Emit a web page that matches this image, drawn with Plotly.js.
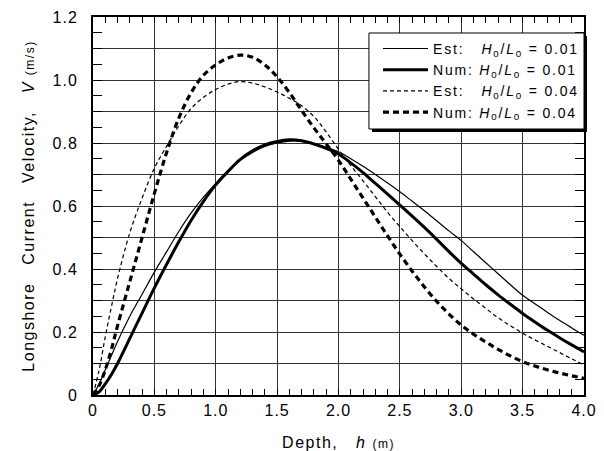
<!DOCTYPE html>
<html>
<head>
<meta charset="utf-8">
<script src="https://cdn.plot.ly/plotly-3.0.1.min.js"></script>
<style>
  html, body { margin: 0; padding: 0; background: #fff; }
  #chart { width: 604px; height: 451px; }
  /* slightly tracked lettering for labels */
  .legendtext { letter-spacing: 1.8px; }
  .xtitle, .ytitle { letter-spacing: 1.5px; }
  .xtick text, .ytick text { letter-spacing: 1px; }
</style>
</head>
<body>
<div id="chart"></div>
<script>
// Water depth h (m)
const depth = [0, 0.05, 0.1, 0.15, 0.2, 0.3, 0.4, 0.5, 0.6, 0.7, 0.8, 0.9, 1.0,
  1.1, 1.2, 1.3, 1.4, 1.5, 1.6, 1.7, 1.8, 1.9, 2.0, 2.1, 2.2, 2.3, 2.4, 2.5,
  2.6, 2.7, 2.8, 2.9, 3.0, 3.1, 3.2, 3.3, 3.4, 3.5, 3.6, 3.7, 3.8, 3.9, 4.0];

// Longshore current velocity V (m/s)
const estSteep001 = [0, 0.035, 0.08, 0.125, 0.17, 0.25, 0.32, 0.39, 0.455, 0.52, 0.578, 0.628, 0.672,
  0.712, 0.745, 0.77, 0.789, 0.80, 0.806, 0.805, 0.797, 0.786, 0.772, 0.75, 0.726, 0.70, 0.673, 0.645,
  0.615, 0.585, 0.553, 0.521, 0.49, 0.455, 0.42, 0.385, 0.35, 0.317, 0.29, 0.263, 0.237, 0.213, 0.19];

const numSteep001 = [0, 0.01, 0.035, 0.065, 0.1, 0.18, 0.26, 0.34, 0.415, 0.487, 0.555, 0.615, 0.667,
  0.71, 0.748, 0.775, 0.794, 0.805, 0.81, 0.807, 0.797, 0.783, 0.765, 0.737, 0.706, 0.672, 0.638, 0.603,
  0.568, 0.532, 0.494, 0.455, 0.418, 0.384, 0.35, 0.318, 0.288, 0.259, 0.232, 0.206, 0.182, 0.159, 0.137];

const estSteep004 = [0, 0.08, 0.185, 0.28, 0.37, 0.515, 0.625, 0.72, 0.79, 0.855, 0.91, 0.945, 0.97,
  0.987, 0.995, 0.99, 0.978, 0.962, 0.942, 0.918, 0.884, 0.835, 0.78, 0.728, 0.68, 0.63, 0.58, 0.534,
  0.49, 0.448, 0.408, 0.37, 0.337, 0.305, 0.275, 0.245, 0.22, 0.196, 0.175, 0.155, 0.135, 0.115, 0.095];

const numSteep004 = [0, 0.03, 0.08, 0.145, 0.22, 0.36, 0.5, 0.64, 0.77, 0.88, 0.96, 1.015, 1.048,
  1.07, 1.079, 1.072, 1.048, 1.01, 0.96, 0.903, 0.848, 0.797, 0.745, 0.685, 0.625, 0.565, 0.505, 0.447,
  0.393, 0.343, 0.297, 0.257, 0.222, 0.193, 0.168, 0.145, 0.124, 0.106, 0.092, 0.08, 0.07, 0.061, 0.053];

// Axis ticks
const xTickVals = [0, 0.5, 1.0, 1.5, 2.0, 2.5, 3.0, 3.5, 4.0];
const xTickText = ['0', '0.5', '1.0', '1.5', '2.0', '2.5', '3.0', '3.5', '4.0'];
const yTickVals = [0, 0.2, 0.4, 0.6, 0.8, 1.0, 1.2];
const yTickText = ['0', '0.2', '0.4', '0.6', '0.8', '1.0', '1.2'];

// Legend labels
const ratio = '<i>H</i><sub>0</sub>/<i>L</i><sub>0</sub>';
const seriesNames = [
  'Est:\u00A0\u00A0\u00A0' + ratio + ' = 0.01',
  'Num:\u00A0' + ratio + ' = 0.01',
  'Est:\u00A0\u00A0\u00A0' + ratio + ' = 0.04',
  'Num:\u00A0' + ratio + ' = 0.04'
];

const FONT = '"Liberation Sans", Arial, sans-serif';
const GRID = '#333';

const traces = [
  { x: depth, y: estSteep001, name: seriesNames[0], mode: 'lines',
    line: { color: '#000', width: 1.2, shape: 'spline', smoothing: 1 } },
  { x: depth, y: numSteep001, name: seriesNames[1], mode: 'lines',
    line: { color: '#000', width: 3, shape: 'spline', smoothing: 1 } },
  { x: depth, y: estSteep004, name: seriesNames[2], mode: 'lines',
    line: { color: '#000', width: 1.2, dash: '4px,3px', shape: 'spline', smoothing: 1 } },
  { x: depth, y: numSteep004, name: seriesNames[3], mode: 'lines',
    line: { color: '#000', width: 3.2, dash: '6px,4px', shape: 'spline', smoothing: 1 } },
  // carrier for the secondary tick axis (half-step ticks)
  { x: [], y: [], yaxis: 'y2', showlegend: false, hoverinfo: 'skip', mode: 'lines' }
];

// Legend frame (paper coordinates) with a 3px drop shadow on the bottom and right
const legendFrame = { x0: 0.562, x1: 1.0, y0: 0.7037, y1: 0.9577 };
const pxX = 1 / 491, pxY = 1 / 378;

const layout = {
  width: 604,
  height: 451,
  margin: { l: 93, r: 20, t: 17, b: 56 },
  paper_bgcolor: '#fff',
  plot_bgcolor: '#fff',
  font: { family: FONT, size: 16, color: '#000' },
  showlegend: true,
  legend: {
    x: 1, y: 0.958, xanchor: 'right', yanchor: 'top',
    bgcolor: 'rgba(0,0,0,0)', borderwidth: 0,
    font: { family: FONT, size: 14, color: '#000' },
    itemwidth: 45,
    tracegroupgap: 0
  },
  xaxis: {
    range: [0, 4],
    tickvals: xTickVals, ticktext: xTickText,
    ticks: 'inside', ticklen: 6, tickcolor: '#000', tickwidth: 1,
    showgrid: true, gridcolor: GRID, gridwidth: 1,
    zeroline: false,
    showline: true, linecolor: '#000', linewidth: 2, mirror: 'ticks',
    minor: { dtick: 0.1, ticks: 'inside', ticklen: 6, tickcolor: '#000', tickwidth: 1, showgrid: false },
    tickfont: { family: FONT, size: 16, color: '#000' },
    title: { text: 'Depth,\u00A0\u00A0\u00A0<i>h</i>\u00A0<span style="font-size:12px">(m)</span>',
      font: { family: FONT, size: 16, color: '#000' }, standoff: 20 }
  },
  yaxis: {
    range: [0, 1.2],
    tickvals: yTickVals, ticktext: yTickText,
    ticks: 'inside', ticklen: 9, tickcolor: '#000', tickwidth: 1,
    showgrid: true, gridcolor: GRID, gridwidth: 1,
    zeroline: false,
    showline: true, linecolor: '#000', linewidth: 2, mirror: 'ticks',
    minor: { dtick: 0.1, ticks: 'inside', ticklen: 9, tickcolor: '#000', tickwidth: 1,
      showgrid: true, gridcolor: GRID, gridwidth: 1 },
    tickfont: { family: FONT, size: 16, color: '#000' },
    ticklabelstandoff: 10,
    title: { text: 'Longshore\u00A0\u00A0\u00A0Current\u00A0\u00A0\u00A0Velocity,\u00A0\u00A0\u00A0<i>V</i>\u00A0<span style="font-size:12px">(m/s)</span>',
      font: { family: FONT, size: 16, color: '#000' }, standoff: 14 }
  },
  yaxis2: {
    overlaying: 'y', side: 'left', anchor: 'x',
    range: [0, 1.2],
    tickmode: 'linear', tick0: 0.05, dtick: 0.1,
    ticks: 'inside', ticklen: 9, tickcolor: '#000', tickwidth: 1,
    showticklabels: false, showgrid: false, zeroline: false,
    showline: false, mirror: 'ticks'
  },
  shapes: [
    // white legend panel with thin border
    { type: 'rect', xref: 'paper', yref: 'paper', layer: 'above',
      x0: legendFrame.x0, x1: legendFrame.x1, y0: legendFrame.y0, y1: legendFrame.y1,
      fillcolor: '#fff', line: { color: '#000', width: 1 } },
    // shadow along the bottom edge
    { type: 'line', xref: 'paper', yref: 'paper', layer: 'above',
      x0: legendFrame.x0 + 3 * pxX, x1: legendFrame.x1 + 3 * pxX,
      y0: legendFrame.y0 - 1.5 * pxY, y1: legendFrame.y0 - 1.5 * pxY,
      line: { color: '#000', width: 3 } },
    // shadow along the right edge
    { type: 'line', xref: 'paper', yref: 'paper', layer: 'above',
      x0: legendFrame.x1 + 1.5 * pxX, x1: legendFrame.x1 + 1.5 * pxX,
      y0: legendFrame.y0 - 3 * pxY, y1: legendFrame.y1 - 3 * pxY,
      line: { color: '#000', width: 3 } }
  ]
};

Plotly.newPlot('chart', traces, layout, { staticPlot: true, displayModeBar: false });
</script>
</body>
</html>
